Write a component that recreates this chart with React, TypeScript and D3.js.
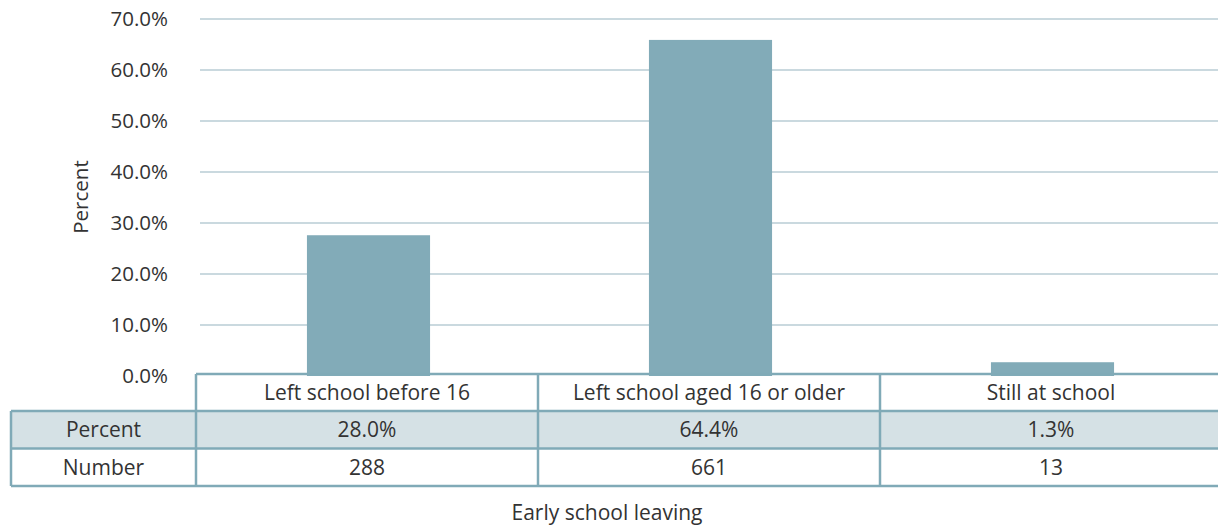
import React from "react";
import * as d3 from "d3";

const categories = ["Left school before 16", "Left school aged 16 or older", "Still at school"];
const barValues = [27.6, 65.9, 2.7];
const percentLabels = ["28.0%", "64.4%", "1.3%"];
const numberLabels = ["288", "661", "13"];
const yTicks = [0, 10, 20, 30, 40, 50, 60, 70];
const rowLabels = ["Percent", "Number"];

const W = 1218;
const H = 526;
const FONT = "'Open Sans', sans-serif";
const FS = 21;
const TEXT = "#333333";
const BORDER = "#80AAB7";
const GRID = "#CAD9DF";
const BAR = "#82ABB8";
const ROWFILL = "#D5E1E5";

export default function App() {
  const x = d3.scaleBand<string>().domain(categories).range([196, 1222]).paddingInner(0).paddingOuter(0);
  const y = d3.scaleLinear().domain([0, 70]).range([376, 19]);
  const bw = x.bandwidth();
  const barW = bw * 0.36;
  const fmt = d3.format(".1f");

  const headerTop = 374;
  const row1Top = 411;
  const row2Top = 448.5;
  const tableBottom = 486;
  const leftX = 11;
  const colX = 196;

  return (
    <svg width={W} height={H} style={{ position: "absolute", left: 0, top: 0, background: "#fff" }} fontFamily={FONT}>
      {yTicks.filter((t) => t > 0).map((t) => (
        <line key={t} x1={200} x2={W} y1={y(t)} y2={y(t)} stroke={GRID} strokeWidth={2} />
      ))}
      {yTicks.map((t) => (
        <text key={t} x={168} y={y(t)} dy="0.35em" textAnchor="end" fontSize={FS - 0.5} fill={TEXT}>
          {fmt(t)}%
        </text>
      ))}
      <text transform={`translate(88,197) rotate(-90)`} textAnchor="middle" fontSize={FS - 0.5} fill={TEXT}>
        Percent
      </text>
      {categories.map((c, i) => (
        <rect
          key={c}
          x={(x(c) as number) + bw / 2 - barW / 2 + 1.5}
          y={y(barValues[i])}
          width={barW}
          height={y(0) - y(barValues[i])}
          fill={BAR}
        />
      ))}
      <rect x={leftX} y={row1Top} width={W - leftX} height={row2Top - row1Top} fill={ROWFILL} />
      <g stroke={BORDER} strokeWidth={2.5} fill="none">
        <line x1={colX} x2={W} y1={headerTop} y2={headerTop} />
        <line x1={leftX} x2={W} y1={row1Top} y2={row1Top} />
        <line x1={leftX} x2={W} y1={row2Top} y2={row2Top} />
        <line x1={leftX} x2={W} y1={tableBottom} y2={tableBottom} />
        <line x1={leftX} x2={leftX} y1={row1Top} y2={tableBottom} />
        {categories.map((c) => (
          <line key={c} x1={x(c) as number} x2={x(c) as number} y1={headerTop} y2={tableBottom} />
        ))}
      </g>
      {categories.map((c) => (
        <text key={c} x={(x(c) as number) + bw / 2} y={(headerTop + row1Top) / 2} dy="0.35em" textAnchor="middle" fontSize={FS} fill={TEXT}>
          {c}
        </text>
      ))}
      {rowLabels.map((r, i) => (
        <text key={r} x={(leftX + colX) / 2} y={i === 0 ? (row1Top + row2Top) / 2 : (row2Top + tableBottom) / 2} dy="0.35em" textAnchor="middle" fontSize={FS} fill={TEXT}>
          {r}
        </text>
      ))}
      {categories.map((c, i) => (
        <text key={"p" + c} x={(x(c) as number) + bw / 2} y={(row1Top + row2Top) / 2} dy="0.35em" textAnchor="middle" fontSize={FS} fill={TEXT}>
          {percentLabels[i]}
        </text>
      ))}
      {categories.map((c, i) => (
        <text key={"n" + c} x={(x(c) as number) + bw / 2} y={(row2Top + tableBottom) / 2} dy="0.35em" textAnchor="middle" fontSize={FS} fill={TEXT}>
          {numberLabels[i]}
        </text>
      ))}
      <text x={607} y={513} dy="0.35em" textAnchor="middle" fontSize={FS} fill={TEXT}>
        Early school leaving
      </text>
    </svg>
  );
}
